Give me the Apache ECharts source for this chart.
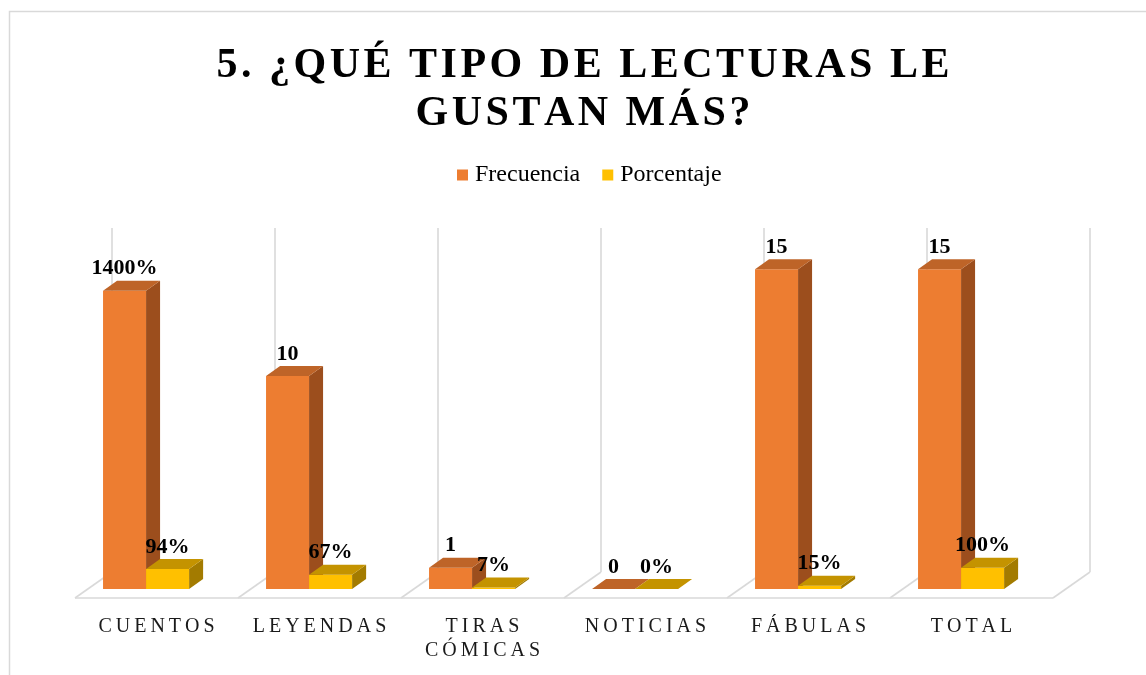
<!DOCTYPE html>
<html>
<head>
<meta charset="utf-8">
<script src="https://cdn.jsdelivr.net/npm/echarts@6/dist/echarts.min.js"></script>
<style>
html,body{margin:0;padding:0;background:#fff;}
#chart{width:1146px;height:675px;}
</style>
</head>
<body>
<div id="chart"></div>
<script>
const titleLines = ['5. ¿QUÉ TIPO DE LECTURAS LE', 'GUSTAN MÁS?'];
const categories = ['CUENTOS', 'LEYENDAS', 'TIRAS\nCÓMICAS', 'NOTICIAS', 'FÁBULAS', 'TOTAL'];
const frecuencia = [14, 10, 1, 0, 15, 15];
const frecuenciaLabels = ['1400%', '10', '1', '0', '15', '15'];
const porcentaje = [0.94, 0.67, 0.07, 0, 0.15, 1.00];
const porcentajeLabels = ['94%', '67%', '7%', '0%', '15%', '100%'];
const yMax = 16;

const SERIF = '"Liberation Serif", "Times New Roman", serif';
const space = (s, sp) => s.split('\n').map(l => Array.from(l).join(sp)).join('\n');

const DX = 14, DY = -10; // bar depth
const FLOOR_DX = 37, FLOOR_DY = -26, FLOOR_FRONT = 9;

const colors = {
  orange: { front: '#ED7D31', top: '#BE6428', side: '#9C4E1D' },
  yellow: { front: '#FFC000', top: '#C49300', side: '#A37B00' }
};

function barRenderer(kind, labels, pal) {
  return function (params, api) {
    const i = api.value(0), v = api.value(1);
    const base = api.coord([i, 0]);
    const top = api.coord([i, v]);
    const band = api.size([1, 0])[0];
    const w = band * 0.264;
    const x1 = base[0] + (kind === 0 ? -band * 0.328 : -band * 0.064);
    const x2 = x1 + w;
    const y0 = base[1], yt = top[1];
    const children = [];
    if (yt < y0 - 0.5) {
      children.push({ type: 'polygon', shape: { points: [[x1, yt], [x2, yt], [x2, y0], [x1, y0]] }, style: { fill: pal.front } });
    }
    children.push({ type: 'polygon', shape: { points: [[x2, yt], [x2 + DX, yt + DY], [x2 + DX, y0 + DY], [x2, y0]] }, style: { fill: pal.side } });
    children.push({ type: 'polygon', shape: { points: [[x1, yt], [x2, yt], [x2 + DX, yt + DY], [x1 + DX, yt + DY]] }, style: { fill: pal.top } });
    children.push({
      type: 'text',
      style: {
        text: labels[params.dataIndex],
        x: (x1 + x2 + DX) / 2 - 7,
        y: yt + DY - 12,
        align: 'center', verticalAlign: 'middle',
        font: 'bold 22px ' + SERIF, fill: '#000'
      },
      z2: 10
    });
    return { type: 'group', children };
  };
}

function frameRenderer(params, api) {
  const c0 = api.coord([0, 0]);
  const band = api.size([1, 0])[0];
  const yTop = api.coord([0, yMax])[1];
  const y0 = c0[1];
  const yf = y0 + FLOOR_FRONT;
  const left = c0[0] - band / 2;
  const n = categories.length;
  const st = { stroke: '#D9D9D9', lineWidth: 1.6, fill: null };
  const children = [];
  children.push({ type: 'line', shape: { x1: left, y1: yf, x2: left + n * band, y2: yf }, style: st });
  for (let k = 0; k <= n; k++) {
    const bx = left + k * band;
    children.push({ type: 'line', shape: { x1: bx, y1: yf, x2: bx + FLOOR_DX, y2: yf + FLOOR_DY }, style: st });
    children.push({ type: 'line', shape: { x1: bx + FLOOR_DX, y1: yf + FLOOR_DY, x2: bx + FLOOR_DX, y2: yTop - 20 }, style: st });
  }
  return { type: 'group', children };
}

const chart = echarts.init(document.getElementById('chart'), null, { renderer: 'canvas' });
chart.setOption({
  backgroundColor: '#fff',
  animation: false,
  title: {
    text: space(titleLines.join('\n'), '\u200A'),
    left: 578,
    top: 37,
    textAlign: 'center',
    textStyle: { fontFamily: SERIF, fontWeight: 'bold', fontSize: 42, lineHeight: 48, color: '#000' }
  },
  legend: {
    top: 158,
    left: 452,
    itemWidth: 11, itemHeight: 11, itemGap: 22,
    icon: 'rect',
    textStyle: { fontFamily: SERIF, fontSize: 24, color: '#000', padding: [0, 0, 0, 2] },
    data: ['Frecuencia', 'Porcentaje']
  },
  graphic: [{
    type: 'rect', shape: { x: 9.5, y: 11.5, width: 1150, height: 700 },
    style: { fill: null, stroke: '#D9D9D9', lineWidth: 1.5 }, silent: true, z: -10
  }],
  grid: { left: 75, right: 93, top: 248, bottom: 86 },
  xAxis: {
    type: 'category',
    data: categories,
    axisLine: { show: false }, axisTick: { show: false },
    axisLabel: {
      margin: 26, interval: 0,
      fontFamily: SERIF, fontSize: 20, color: '#1A1A1A', lineHeight: 24,
      formatter: v => space(v, '\u2009')
    }
  },
  yAxis: { type: 'value', min: 0, max: yMax, show: false, splitLine: { show: false } },
  series: [
    { type: 'custom', name: 'frame', data: [[0]], renderItem: frameRenderer, silent: true, z: 1, legendHoverLink: false },
    { type: 'custom', name: 'Frecuencia', data: frecuencia.map((v, i) => [i, v]), renderItem: barRenderer(0, frecuenciaLabels, colors.orange), itemStyle: { color: colors.orange.front }, z: 2 },
    { type: 'custom', name: 'Porcentaje', data: porcentaje.map((v, i) => [i, v]), renderItem: barRenderer(1, porcentajeLabels, colors.yellow), itemStyle: { color: colors.yellow.front }, z: 3 }
  ]
});
</script>
</body>
</html>
